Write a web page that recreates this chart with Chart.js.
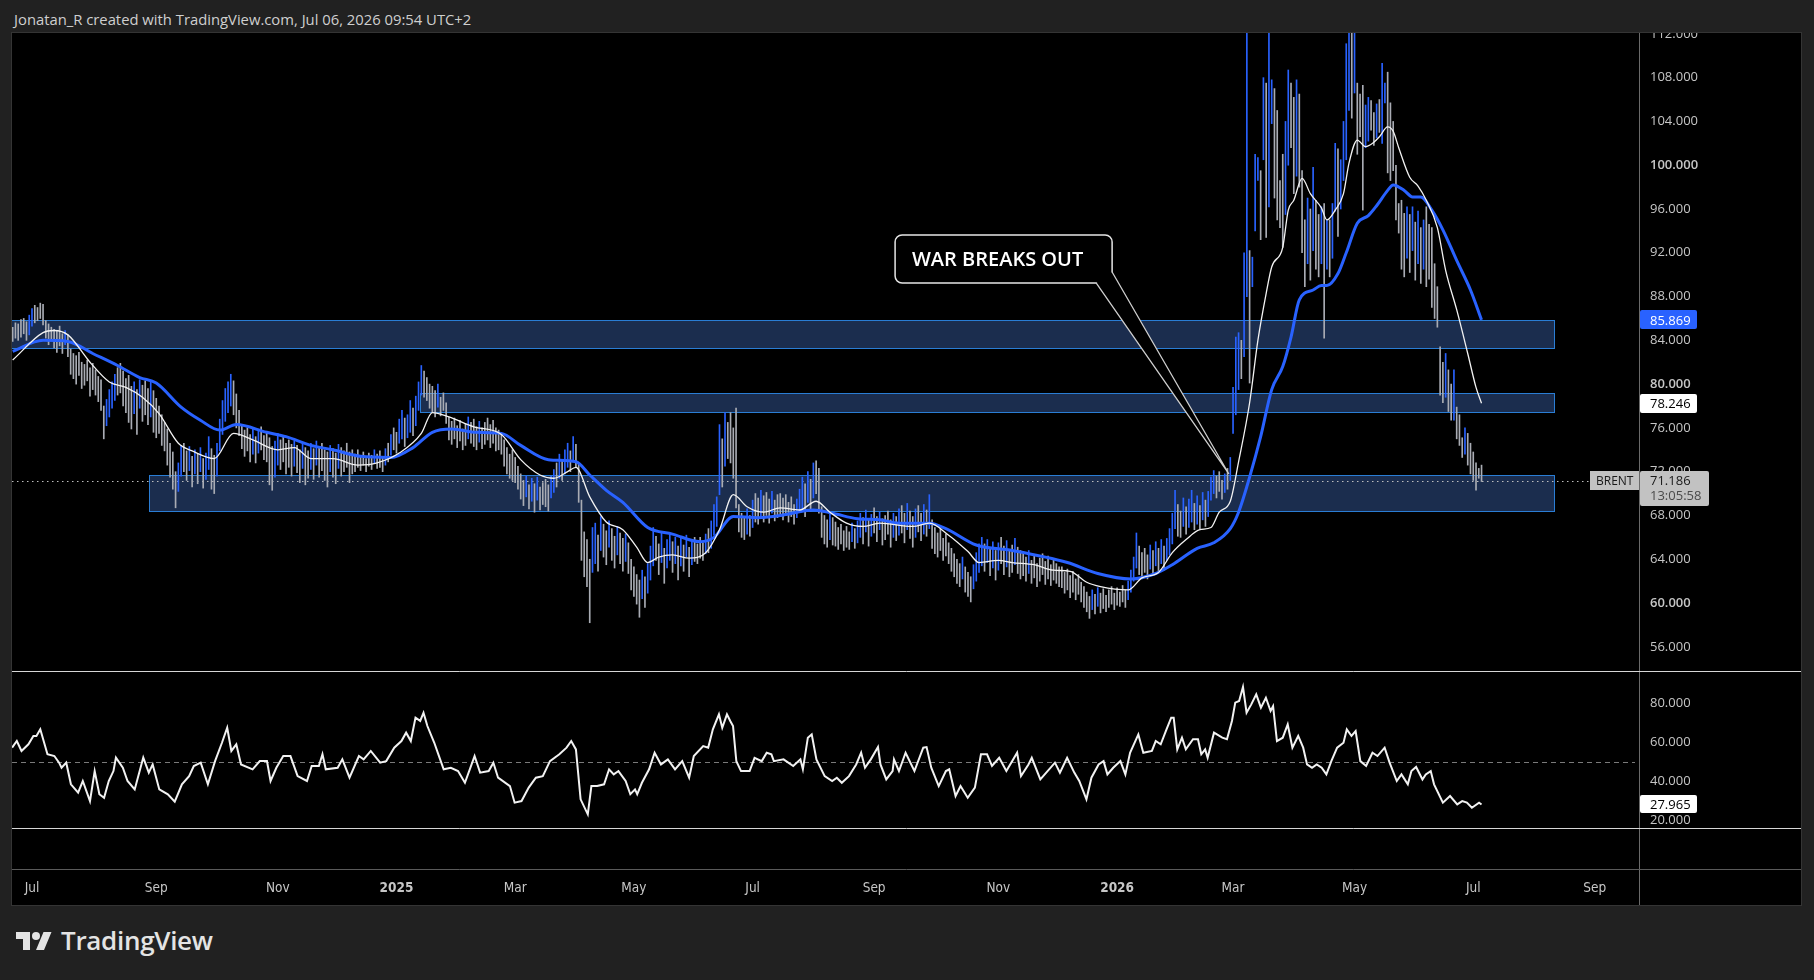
<!DOCTYPE html>
<html>
<head>
  <meta charset="utf-8">
  <title>BRENT daily</title>
  <script src="https://cdn.jsdelivr.net/npm/chart.js"></script>
  <style>
    body {
      margin: 0;
      width: 1814px;
      height: 980px;
      overflow: hidden;
      background: #212121;
      font-family: 'Open Sans', sans-serif;
    }
    .header {
      position: absolute;
      left: 14px;
      top: 9px;
      color: #cfcfcf;
      font-size: 14.8px;
    }
    .frame {
      position: absolute;
      left: 11px;
      top: 32px;
      width: 1789px;
      height: 872px;
      background: #000;
      border: 1px solid #343434;
    }
    .frame canvas { position: absolute; left: 0; }
    .logo {
      position: absolute;
      left: 15px;
      top: 922px;
      display: flex;
      align-items: center;
      color: #e4e4e4;
      font-size: 26px;
      font-weight: 600;
      letter-spacing: -0.3px;
    }
    .logo svg { margin-right: 8px; }
  </style>
</head>
<body>

  <div class="header">Jonatan_R created with TradingView.com, Jul 06, 2026 09:54 UTC+2</div>

  <div class="frame">
    <canvas id="price" width="1789" height="638" style="top:0"></canvas>
    <canvas id="rsi" width="1789" height="157" style="top:638px"></canvas>
    <canvas id="time" width="1789" height="77" style="top:795px"></canvas>
  </div>

  <div class="logo">
    <svg width="38" height="24" viewBox="0 0 36 24"><path fill="#e4e4e4" d="M14 22H7V11H0V4h14v18zM28 22h-8l7.5-18h8L28 22z"/><circle fill="#e4e4e4" cx="20" cy="8" r="4"/></svg>
    TradingView
  </div>

  <script>
    // bar index 0 = Mon 1 Jul 2024, one step per weekday
    const firstBar = -7;
    const highs = [
      85.2,85.6,85.5,85.9,86.0,85.7,86.3,86.9,87.2,87.0,
      87.4,87.3,85.8,85.5,85.2,85.0,84.9,85.3,84.6,84.9,
      84.5,83.2,82.8,82.6,82.9,82.0,81.8,82.2,81.5,81.9,
      81.3,80.7,80.4,78.0,78.6,79.5,80.2,80.9,81.5,81.9,
      81.2,80.5,80.8,79.8,80.2,79.5,80.4,79.9,80.3,79.6,
      80.2,79.4,78.7,78.0,77.2,76.5,75.9,74.6,73.8,72.0,
      72.8,74.4,74.6,73.9,74.3,73.4,74.0,73.6,74.2,73.2,
      73.7,75.2,74.1,73.5,74.6,76.8,78.5,79.6,80.2,80.9,
      80.3,79.1,77.6,76.2,75.8,76.0,75.4,75.9,75.2,75.7,
      76.1,75.3,75.6,75.1,74.3,74.8,75.5,74.9,75.2,74.6,
      74.9,74.5,74.8,74.4,74.0,74.7,74.2,73.9,74.6,74.1,
      74.8,74.3,74.6,74.0,73.8,74.4,74.1,73.7,74.5,74.2,
      73.9,74.6,73.8,74.0,73.6,74.0,73.4,73.8,73.2,73.7,
      73.5,74.0,73.6,73.9,73.3,74.1,74.6,75.4,76.0,75.6,
      76.8,77.6,76.9,77.2,78.5,77.8,78.9,80.2,81.7,81.2,
      80.6,80.0,79.8,79.4,80.0,78.8,79.2,78.3,77.0,76.6,
      76.9,76.2,76.7,75.9,76.4,77.0,76.5,76.8,76.1,76.6,
      76.0,76.5,76.9,76.3,76.7,76.0,75.8,75.4,74.9,74.2,
      73.6,74.0,73.3,72.5,71.8,71.2,71.6,70.8,71.4,70.9,
      71.5,70.6,71.0,71.3,70.8,71.6,72.2,72.8,73.6,73.1,
      74.0,74.6,73.9,75.2,74.5,72.8,69.4,66.5,65.8,64.0,
      66.9,67.3,66.2,67.9,67.2,66.6,67.5,66.8,66.1,67.0,
      66.4,65.9,66.3,65.5,64.0,63.3,62.6,62.1,63.0,62.4,
      63.6,65.2,66.9,66.1,65.4,66.5,65.0,65.8,66.4,65.6,
      66.0,65.2,65.9,65.3,66.2,65.1,65.7,66.0,65.4,66.0,
      65.5,66.3,66.8,67.5,69.0,69.7,76.3,75.0,77.4,76.5,
      77.4,76.0,77.8,69.0,68.2,67.9,68.6,68.0,69.4,70.0,
      69.6,70.3,69.8,70.1,69.5,70.2,69.4,69.9,70.0,69.6,
      69.9,69.2,69.7,69.0,69.5,70.4,71.5,70.9,72.0,71.3,
      72.8,73.0,72.3,68.8,68.0,67.6,68.3,67.8,67.4,66.9,
      67.2,66.6,67.0,66.5,67.3,66.8,67.5,68.2,67.8,68.5,
      67.6,68.1,68.7,67.9,68.3,67.7,68.0,68.4,67.6,68.2,
      67.9,68.6,68.9,68.2,69.1,68.4,67.9,68.6,68.9,68.2,
      69.0,68.5,69.9,67.6,66.9,66.4,66.8,65.9,66.3,65.5,
      65.0,64.5,64.0,63.6,64.2,63.3,62.8,62.4,63.5,64.6,
      65.4,66.0,65.4,65.8,65.0,65.6,64.8,65.5,66.0,65.2,
      65.7,64.9,65.3,65.9,65.1,64.8,64.6,64.2,64.8,63.9,
      64.4,63.6,64.1,64.5,63.8,64.3,63.5,64.0,63.6,63.3,
      63.3,62.8,63.1,62.5,62.9,62.2,62.6,61.9,61.5,61.0,
      60.6,61.2,60.8,61.4,60.9,61.3,60.7,61.2,61.5,60.9,
      61.4,61.0,61.6,61.2,62.0,63.0,64.2,66.4,65.2,64.6,
      65.0,64.4,65.3,64.8,65.6,65.0,65.8,65.2,65.9,66.8,
      68.2,70.3,69.0,68.4,69.6,68.8,69.5,70.3,69.1,69.8,
      68.9,70.1,69.4,70.2,71.5,72.1,71.6,72.0,71.2,71.8,
      72.3,73.3,79.7,84.3,84.7,84.0,92.0,113.0,92.2,91.6,
      101.0,100.7,99.5,108.0,107.5,113.0,107.8,107.0,105.0,98.6,
      101.0,104.0,108.7,107.5,106.2,107.8,106.5,99.5,95.0,97.0,
      96.0,99.8,96.8,95.5,96.2,96.5,95.0,95.0,96.5,102.0,
      101.5,100.5,104.0,111.1,113.0,113.0,112.5,107.5,106.5,107.3,
      105.5,106.2,105.9,104.8,105.6,106.0,109.3,107.5,108.5,105.7,
      104.0,100.0,96.5,96.8,95.6,96.2,95.5,96.2,94.8,95.8,
      94.3,95.0,96.2,94.6,94.3,91.0,88.9,83.4,82.0,82.8,
      81.3,80.0,81.3,77.9,77.2,75.1,76.0,75.5,74.6,73.8,
      72.8,72.3,72.6
    ];
    const lows = [
      83.9,84.2,84.0,84.3,84.6,84.0,84.5,85.3,85.6,85.8,
      86.0,85.4,84.2,83.6,84.0,83.3,82.9,83.5,82.8,83.6,
      82.5,80.9,80.5,80.0,80.8,79.6,79.9,80.3,78.9,79.5,
      79.0,78.4,77.6,75.0,76.2,77.0,77.8,78.5,79.0,79.2,
      78.0,77.4,76.5,75.9,77.3,75.4,77.8,76.6,77.2,76.3,
      77.0,75.6,75.1,75.5,74.4,73.9,72.6,71.5,70.4,68.7,
      70.2,71.6,72.0,71.2,72.1,70.6,71.8,70.9,72.0,70.5,
      71.3,72.2,70.4,70.0,71.6,73.9,75.4,76.6,77.4,78.0,
      77.2,76.0,75.3,74.1,73.4,73.9,72.9,73.6,72.8,73.7,
      74.0,73.1,72.9,70.8,70.3,71.5,72.6,72.2,72.9,71.8,
      72.4,71.6,72.5,71.9,71.0,72.3,70.8,71.4,72.2,71.3,
      72.6,71.5,72.1,71.2,70.6,72.0,71.5,70.9,72.3,71.6,
      72.0,72.4,71.0,71.8,72.0,72.4,72.1,72.6,72.0,72.5,
      72.2,72.8,72.3,72.4,72.0,72.6,72.9,73.5,74.0,73.7,
      74.6,75.0,74.3,75.1,75.6,75.3,76.2,77.6,79.0,78.8,
      78.5,77.8,77.4,77.0,77.9,77.1,77.6,76.4,74.9,74.5,
      75.0,74.2,74.8,74.0,74.4,75.0,74.6,74.3,74.0,74.7,
      74.1,74.5,74.9,74.2,74.6,73.9,74.0,73.6,72.5,71.8,
      71.4,71.2,71.0,70.4,69.5,68.9,69.7,68.6,69.3,68.3,
      69.4,68.5,69.0,68.8,68.4,69.6,70.1,70.6,71.4,71.2,
      71.8,72.4,72.0,73.0,72.4,69.2,63.9,62.4,61.5,58.2,
      62.8,63.6,62.9,64.8,64.2,63.5,65.1,63.9,63.2,64.4,
      63.6,62.9,63.8,62.7,61.2,60.6,59.9,58.7,60.4,59.6,
      60.9,62.1,63.4,63.9,62.6,63.7,61.8,63.2,63.9,62.8,
      63.6,62.1,63.4,62.9,64.2,62.4,63.5,63.8,63.6,64.1,
      63.9,64.5,64.6,65.0,66.2,67.0,69.9,70.6,72.5,73.2,
      72.8,71.4,68.7,66.5,66.0,65.8,66.3,66.1,66.9,67.4,
      67.2,67.8,67.4,68.0,67.3,68.2,67.5,67.8,68.1,67.6,
      68.0,67.4,67.9,67.2,67.8,68.3,68.6,67.9,69.2,68.4,
      69.6,70.0,68.2,66.0,65.4,65.1,65.8,65.3,65.2,64.9,
      65.4,64.8,65.1,64.9,65.6,65.0,65.5,66.0,65.4,66.5,
      65.2,66.1,66.4,65.6,66.7,65.3,65.8,66.3,65.1,66.0,
      65.7,66.2,66.4,65.5,66.7,65.9,65.1,66.0,66.5,65.7,
      66.3,66.1,66.8,65.0,64.5,64.2,64.8,63.9,64.3,63.6,
      62.9,62.4,61.8,61.5,62.2,61.0,60.6,60.1,61.3,62.0,
      62.8,63.4,62.9,63.7,62.5,63.2,62.1,63.0,63.6,62.6,
      63.3,62.4,62.8,63.5,62.7,62.2,62.5,62.0,62.7,61.8,
      62.3,61.5,62.0,62.6,61.7,62.2,61.6,62.1,61.8,61.5,
      61.4,60.9,61.2,60.5,61.0,60.3,60.8,60.1,59.6,59.2,
      58.6,59.4,59.0,59.7,59.1,59.5,59.2,59.6,59.9,59.4,
      59.8,59.7,60.1,59.6,60.3,61.0,62.0,63.2,62.6,62.4,
      62.8,62.2,63.1,62.7,63.4,62.9,63.6,63.0,63.9,64.4,
      65.4,66.8,66.1,66.0,67.0,66.3,66.9,67.4,66.7,67.2,
      66.8,67.6,67.0,67.9,69.4,70.0,69.6,70.2,69.5,70.1,
      70.4,71.2,75.5,77.2,79.5,80.5,82.5,88.0,80.1,88.9,
      94.0,98.6,93.2,100.5,93.4,96.2,103.8,97.0,95.0,94.3,
      92.5,95.5,100.0,101.6,97.4,99.0,98.0,92.0,88.9,91.0,
      89.5,92.2,90.5,89.8,91.0,84.2,90.5,89.8,91.5,95.8,
      93.5,96.0,98.6,100.5,105.0,104.3,106.6,101.0,102.6,95.9,
      101.6,102.2,103.2,101.8,102.5,103.0,102.0,105.7,99.3,98.6,
      99.5,95.0,93.8,90.5,89.8,91.5,90.2,92.2,89.5,91.0,
      89.2,90.5,88.9,89.6,87.0,86.0,85.2,79.0,78.3,78.8,
      77.5,76.7,76.7,75.0,74.4,73.3,73.6,72.6,71.8,71.2,
      70.3,71.4,71.1
    ];

    // moving averages (bar index, value)
    const whiteIdx = [-7,4,8,13,21,28,34,40,46,53,58,66,73,80,89,95,101,109,118,125,
      133,141,145,151,160,170,177,184,189,194,197,202,208,214,219,223,227,232,238,244,
      249,254,259,265,271,278,284,289,295,301,307,319,325,332,339,343,350,355,363,370,
      376,382,387,397,402,408,413,418,423,427,430,434,437,441,444,447,449,453,455,457,
      460,463,467,469,472,475,477,480,483,486,488,491,493,495,499,502,505,509,512,516,
      520,523,525];
    const whiteMA = [82.2,84.7,84.9,84.5,82.0,80.2,79.7,78.8,77.3,74.6,73.9,73.2,75.5,74.9,74.0,74.2,73.2,73.2,72.6,72.8,
      73.7,75.5,77.4,77.0,76.1,75.4,73.1,71.7,71.4,72.0,72.4,69.7,67.4,66.7,65.1,63.7,64.2,64.4,64.1,64.6,
      66.7,69.9,68.8,68.3,68.7,68.5,69.3,68.3,67.3,67.0,67.3,67.0,67.3,66.2,64.7,63.7,63.9,63.7,63.5,63.0,
      62.9,61.9,61.5,61.2,62.3,62.8,64.6,65.8,66.7,66.9,68.3,69.3,72.9,78.3,84.0,88.3,90.7,92.5,95.9,96.8,
      98.8,97.4,96.1,95.0,95.9,97.4,100.2,102.3,101.7,102.1,102.6,103.5,103.1,101.6,98.9,98.1,96.8,94.3,90.4,86.8,
      82.8,79.7,78.246];
    const blueIdx = [-7,4,13,22,31,39,45,54,61,68,74,85,92,101,109,119,130,138,145,152,
      161,170,177,187,197,202,208,214,223,232,242,247,254,263,271,283,290,299,307,314,
      325,331,342,355,375,386,398,407,413,422,428,434,437,441,445,449,453,456,459,464,
      467,469,473,476,480,484,487,491,493,497,500,503,507,511,516,521,525];
    const blueMA = [83.0,84.0,83.9,82.8,81.7,80.6,80.1,77.9,76.7,75.8,76.3,75.6,75.2,74.4,74.0,73.4,73.3,74.2,75.6,75.9,
      75.6,75.5,74.4,73.1,72.9,71.7,70.3,69.2,66.9,66.3,65.6,66.0,67.9,67.8,68.0,68.5,68.2,67.7,67.6,67.3,
      67.3,66.8,65.3,64.8,63.7,62.7,62.2,62.7,63.5,65.0,65.5,66.8,68.3,71.5,75.2,79.5,81.6,84.3,87.7,88.6,
      89.0,89.0,90.1,92.0,94.7,95.4,96.3,97.7,98.2,97.7,97.1,97.1,95.9,94.1,91.3,88.6,85.869];

    // oscillator pane (bar index, value)
    const rsiIdx = [
      -7.2,-5.5,-3.8,-1.3,0.5,1.6,3.0,5.6,8.1,9.8,
      10.7,12.4,14.1,16.7,18.4,21.0,22.7,24.4,26.1,27.8,
      29.5,30.4,32.9,34.6,37.2,40.3,42.3,43.7,46.1,49.2,
      51.7,54.3,56.9,58.6,61.1,63.7,66.3,68.8,70.7,72.2,
      74.0,75.7,79.9,82.5,85.1,86.4,88.5,91.0,93.6,96.2,
      99.6,101.3,103.9,105.2,106.4,110.7,112.4,115.0,118.4,120.1,
      122.7,126.1,128.3,131.2,133.8,135.5,137.2,138.9,140.6,141.8,
      143.2,145.7,147.4,149.1,151.7,154.3,156.8,160.3,162.3,165.4,
      167.1,168.8,173.1,174.8,177.3,179.9,182.5,185.0,187.6,191.0,
      193.6,195.3,197.0,198.7,201.3,202.6,204.7,207.2,209.0,210.7,
      212.4,215.0,216.7,218.4,219.2,220.9,223.5,225.5,227.8,230.3,
      232.9,235.5,238.0,239.7,243.1,244.9,246.6,248.8,250.0,251.7,
      252.9,253.9,255.1,256.8,259.9,261.7,264.3,266.1,267.8,268.7,
      272.2,275.7,278.3,279.2,281.0,282.4,284.1,287.1,289.8,291.5,
      293.3,295.9,298.5,300.3,301.7,303.8,306.4,307.3,309.4,311.7,
      312.2,314.0,316.4,319.6,322.8,324.0,325.7,328.4,331.0,332.2,
      334.5,336.3,338.9,341.5,343.7,345.9,347.7,350.3,352.9,356.8,
      358.2,360.9,362.1,365.2,370.5,372.3,374.9,377.5,379.3,381.9,
      383.7,386.3,388.1,389.5,391.6,394.2,396.0,397.7,400.7,402.5,
      405.6,407.0,408.8,410.9,412.6,413.5,414.8,416.5,417.9,420.5,
      422.3,423.5,424.9,425.8,428.1,431.1,432.8,434.6,435.8,437.2,
      438.6,439.9,441.6,443.4,445.1,446.9,448.6,449.5,450.9,453.0,
      454.8,456.5,458.6,460.4,461.8,463.6,465.3,467.1,468.8,470.6,
      472.7,475.0,476.2,477.9,479.4,481.1,483.2,485.5,487.3,489.9,
      491.7,494.3,496.0,498.3,499.6,501.3,503.6,504.8,506.6,507.8,
      511.0,513.6,516.2,518.0,519.7,521.5,524.1,525.0
    ];
    const rsiVals = [
      57.1,60.5,55.4,58.8,63.1,63.1,66.5,53.7,52.8,49.4,
      46.8,49.4,38.3,34.0,40.0,29.7,45.1,33.2,31.4,40.0,
      45.1,52.0,46.8,40.0,35.7,52.0,44.3,48.5,35.7,33.2,
      29.4,38.3,42.5,47.7,49.4,38.3,50.2,59.6,67.3,55.4,
      58.8,48.5,46.0,50.2,50.2,40.0,46.8,52.8,52.8,42.5,
      40.0,47.7,47.7,53.7,46.0,46.8,51.1,41.7,52.8,51.1,
      55.4,49.4,50.2,57.1,60.5,64.8,60.5,72.5,70.8,75.0,
      68.2,59.6,52.8,46.0,46.8,45.1,39.1,52.8,44.3,45.1,
      49.4,41.7,37.4,28.9,29.7,36.6,41.7,42.5,50.2,53.7,
      57.1,60.5,56.2,30.6,22.9,37.4,37.4,38.3,46.0,43.4,
      45.1,40.0,33.2,35.7,33.2,39.1,46.0,54.5,48.5,51.1,
      46.0,50.2,41.7,52.8,57.9,57.1,66.5,74.2,67.3,74.2,
      70.8,68.2,50.2,45.1,45.1,51.9,50.2,54.5,53.7,50.2,
      51.1,47.7,51.1,46.0,62.2,63.9,51.1,42.5,40.0,41.7,
      39.1,42.5,48.5,54.5,46.8,51.1,57.4,48.5,40.8,45.1,
      51.1,45.1,54.5,45.1,57.1,57.4,46.8,37.4,45.1,46.0,
      32.3,37.4,31.4,36.6,53.7,53.7,47.7,51.9,45.1,54.5,
      42.5,48.5,51.9,40.8,49.4,44.3,51.9,44.3,40.0,30.6,
      41.7,48.5,50.2,43.4,46.8,50.2,43.4,54.5,63.9,54.5,
      55.4,60.5,58.8,66.5,72.5,72.5,56.2,62.2,56.2,61.4,
      61.4,53.7,56.2,51.9,64.8,62.2,61.4,70.8,80.2,81.0,
      88.2,75.0,79.3,84.4,77.6,82.7,75.9,78.4,60.5,62.2,
      69.0,57.1,63.1,57.1,48.5,46.8,48.5,46.8,43.4,50.2,
      57.1,59.6,66.5,63.1,65.6,50.2,47.7,54.5,52.8,57.1,
      49.4,40.0,43.4,38.3,45.1,47.2,40.8,43.4,45.1,38.3,
      28.9,32.3,28.0,29.7,28.9,26.3,28.9,27.965
    ];

    // support / resistance boxes (bar index from-to, price low-high)
    const zoneFrom = [-12, 140.5, 42.4];
    const zoneTo = [551.2, 551.2, 551.2];
    const zoneLow = [83.3, 77.45, 68.4];
    const zoneHigh = [85.85, 79.2, 71.7];

    const priceTicks = [56, 60, 64, 68, 72, 76, 80, 84, 88, 92, 96, 100, 104, 108, 112];
    const rsiTicks = [20, 40, 60, 80];
    const monthTickIdx = [0, 45, 89, 132, 175, 218, 261, 305, 350, 393, 435, 479, 522, 566];
    const monthLabels = ['Jul', 'Sep', 'Nov', '2025', 'Mar', 'May', 'Jul', 'Sep', 'Nov', '2026', 'Mar', 'May', 'Jul', 'Sep'];

    const symbol = 'BRENT';
    const lastPrice = 71.186;
    const countdown = '13:05:58';
    const calloutText = 'WAR BREAKS OUT';

    const xMin = -7.244, xMax = 582.03;
    const BLUE = '#2962ff';
    const TICK = '#c6c6c6';
    const FONT = "'Open Sans', sans-serif";

    const bars = highs.map((h, i) => ({ x: i + firstBar, y: [lows[i], h] }));
    const mids = highs.map((h, i) => (h + lows[i]) / 2);
    const barColors = mids.map((m, i) => (i > 0 && m - mids[i - 1] > 0.55) ? BLUE : '#a9acb4');

    function tag(ctx, left, yc, w, h, bg, fg, lines) {
      ctx.fillStyle = bg;
      ctx.beginPath();
      ctx.roundRect(left, Math.round(yc - 9.5), w, h, 2);
      ctx.fill();
      ctx.font = '13px ' + FONT;
      ctx.textAlign = 'left';
      ctx.textBaseline = 'middle';
      lines.forEach((l, i) => {
        ctx.fillStyle = l.color || fg;
        ctx.fillText(l.text, left + 10, yc + 1 + i * 15);
      });
    }

    function sideLine(ctx, chart) {
      const a = chart.chartArea;
      ctx.strokeStyle = '#6a6a6a';
      ctx.lineWidth = 1;
      ctx.beginPath();
      ctx.moveTo(Math.round(a.right) + 0.5, 0);
      ctx.lineTo(Math.round(a.right) + 0.5, chart.height);
      ctx.stroke();
    }

    const priceDeco = {
      id: 'priceDeco',
      beforeDatasetsDraw(chart) {
        const { ctx, chartArea: a, scales: { x, y } } = chart;
        ctx.save();
        ctx.beginPath();
        ctx.rect(a.left, a.top, a.right - a.left, a.bottom - a.top);
        ctx.clip();
        zoneLow.forEach((lo, i) => {
          const x0 = Math.round(x.getPixelForValue(zoneFrom[i])) + 0.5;
          const x1 = Math.round(x.getPixelForValue(zoneTo[i])) + 0.5;
          const y0 = Math.round(y.getPixelForValue(zoneHigh[i])) + 0.5;
          const y1 = Math.round(y.getPixelForValue(lo)) + 0.5;
          ctx.fillStyle = '#1b2d4e';
          ctx.fillRect(x0, y0, x1 - x0, y1 - y0);
          ctx.strokeStyle = '#2a7dd4';
          ctx.lineWidth = 1;
          ctx.strokeRect(x0, y0, x1 - x0, y1 - y0);
        });
        const yl = Math.round(y.getPixelForValue(lastPrice)) + 0.5;
        ctx.setLineDash([1.5, 3.5]);
        ctx.strokeStyle = '#bdbdbd';
        ctx.beginPath();
        ctx.moveTo(a.left, yl);
        ctx.lineTo(a.right, yl);
        ctx.stroke();
        ctx.restore();
      },
      afterDatasetsDraw(chart) {
        const { ctx, scales: { x, y } } = chart;
        const bx0 = x.getPixelForValue(312.6), bx1 = x.getPixelForValue(391.2);
        const by0 = y.getPixelForValue(93.63), by1 = y.getPixelForValue(89.24);
        const tx = x.getPixelForValue(433.5), ty = y.getPixelForValue(71.79);
        ctx.save();
        ctx.fillStyle = '#000';
        ctx.strokeStyle = '#e6e6e6';
        ctx.lineWidth = 1.5;
        ctx.beginPath();
        ctx.roundRect(bx0, by0, bx1 - bx0, by1 - by0, 7);
        ctx.fill();
        ctx.stroke();
        // tail
        ctx.beginPath();
        ctx.moveTo(bx1 - 16, by1);
        ctx.lineTo(tx, ty);
        ctx.lineTo(bx1, by1 - 11);
        ctx.closePath();
        ctx.fill();
        ctx.strokeStyle = '#cfcfcf';
        ctx.lineWidth = 1.3;
        ctx.beginPath();
        ctx.moveTo(bx1 - 16, by1);
        ctx.lineTo(tx, ty);
        ctx.lineTo(bx1, by1 - 11);
        ctx.stroke();
        ctx.fillStyle = '#fff';
        ctx.font = '600 20px ' + FONT;
        ctx.textAlign = 'center';
        ctx.textBaseline = 'middle';
        ctx.fillText(calloutText, (bx0 + bx1) / 2 - 6, (by0 + by1) / 2 + 1);
        ctx.restore();
      },
      afterDraw(chart) {
        const { ctx, chartArea: a, scales: { y } } = chart;
        ctx.save();
        sideLine(ctx, chart);
        const L = Math.round(a.right) + 1;
        tag(ctx, L, y.getPixelForValue(blueMA[blueMA.length - 1]), 57, 19, BLUE, '#fff',
          [{ text: blueMA[blueMA.length - 1].toFixed(3) }]);
        tag(ctx, L, y.getPixelForValue(whiteMA[whiteMA.length - 1]), 57, 19, '#fff', '#000',
          [{ text: whiteMA[whiteMA.length - 1].toFixed(3) }]);
        const yl = y.getPixelForValue(lastPrice);
        tag(ctx, L, yl, 69, 35, '#c2c2c2', '#1a1a1a',
          [{ text: lastPrice.toFixed(3) }, { text: countdown, color: '#4a4a4a' }]);
        ctx.fillStyle = '#c2c2c2';
        ctx.fillRect(L - 50, Math.round(yl - 9.5), 49, 19);
        ctx.fillStyle = '#1a1a1a';
        ctx.font = '12px ' + FONT;
        ctx.textAlign = 'left';
        ctx.textBaseline = 'middle';
        ctx.fillText(symbol, L - 44, yl + 1);
        ctx.restore();
      }
    };

    new Chart(document.getElementById('price'), {
      type: 'bar',
      data: {
        datasets: [
          {
            type: 'line',
            data: whiteIdx.map((v, i) => ({ x: v, y: whiteMA[i] })),
            borderColor: '#f2f2f2',
            borderWidth: 1.3,
            pointRadius: 0,
            cubicInterpolationMode: 'monotone',
            order: 1
          },
          {
            type: 'line',
            data: blueIdx.map((v, i) => ({ x: v, y: blueMA[i] })),
            borderColor: BLUE,
            borderWidth: 3,
            pointRadius: 0,
            cubicInterpolationMode: 'monotone',
            order: 2
          },
          {
            type: 'bar',
            data: bars,
            backgroundColor: barColors,
            barThickness: 1,
            borderWidth: 0,
            order: 3
          }
        ]
      },
      options: {
        responsive: false,
        devicePixelRatio: 1,
        animation: false,
        events: [],
        layout: { padding: 0 },
        plugins: { legend: { display: false }, tooltip: { enabled: false } },
        scales: {
          x: { type: 'linear', min: xMin, max: xMax, display: false, offset: false },
          y: {
            type: 'linear',
            position: 'right',
            min: 53.79,
            max: 112.08,
            grid: { display: false, drawTicks: false },
            border: { display: false },
            afterFit: s => { s.width = 162; s.paddingTop = 0; s.paddingBottom = 0; },
            afterBuildTicks: s => { s.ticks = priceTicks.map(v => ({ value: v })); },
            ticks: {
              padding: 11,
              color: TICK,
              autoSkip: false,
              font: c => ({ family: FONT, size: 13, weight: (c.tick && c.tick.value % 20 === 0) ? '600' : '400' }),
              callback: v => v.toFixed(3)
            }
          }
        }
      },
      plugins: [priceDeco]
    });

    const rsiDeco = {
      id: 'rsiDeco',
      beforeDatasetsDraw(chart) {
        const { ctx, chartArea: a, scales: { y } } = chart;
        const ym = Math.round(y.getPixelForValue(50)) + 0.5;
        ctx.save();
        ctx.setLineDash([5, 4]);
        ctx.strokeStyle = '#7a7a7a';
        ctx.lineWidth = 1;
        ctx.beginPath();
        ctx.moveTo(a.left, ym);
        ctx.lineTo(a.right - 4, ym);
        ctx.stroke();
        ctx.restore();
      },
      afterDraw(chart) {
        const { ctx, chartArea: a, scales: { y } } = chart;
        ctx.save();
        sideLine(ctx, chart);
        ctx.strokeStyle = '#d6d6d6';
        ctx.lineWidth = 1;
        ctx.beginPath();
        ctx.moveTo(0, 0.5);
        ctx.lineTo(chart.width, 0.5);
        ctx.stroke();
        const last = rsiVals[rsiVals.length - 1];
        tag(ctx, Math.round(a.right) + 1, y.getPixelForValue(last), 57, 18, '#fff', '#000', [{ text: last.toFixed(3) }]);
        ctx.restore();
      }
    };

    new Chart(document.getElementById('rsi'), {
      type: 'line',
      data: {
        datasets: [{
          data: rsiIdx.map((v, i) => ({ x: v, y: rsiVals[i] })),
          borderColor: '#f2f2f2',
          borderWidth: 2,
          pointRadius: 0,
          tension: 0
        }]
      },
      options: {
        responsive: false,
        devicePixelRatio: 1,
        animation: false,
        events: [],
        layout: { padding: 0 },
        plugins: { legend: { display: false }, tooltip: { enabled: false } },
        scales: {
          x: { type: 'linear', min: xMin, max: xMax, display: false },
          y: {
            type: 'linear',
            position: 'right',
            min: 15.9,
            max: 96.41,
            grid: { display: false, drawTicks: false },
            border: { display: false },
            afterFit: s => { s.width = 162; s.paddingTop = 0; s.paddingBottom = 0; },
            afterBuildTicks: s => { s.ticks = rsiTicks.map(v => ({ value: v })); },
            ticks: {
              padding: 11,
              color: TICK,
              autoSkip: false,
              font: { family: FONT, size: 13 },
              callback: v => v.toFixed(3)
            }
          }
        }
      },
      plugins: [rsiDeco]
    });

    const timeDeco = {
      id: 'timeDeco',
      afterDraw(chart) {
        const { ctx, chartArea: a } = chart;
        ctx.save();
        sideLine(ctx, chart);
        ctx.lineWidth = 1;
        ctx.strokeStyle = '#d6d6d6';
        ctx.beginPath();
        ctx.moveTo(0, 0.5);
        ctx.lineTo(chart.width, 0.5);
        ctx.stroke();
        ctx.strokeStyle = '#5a5a5a';
        ctx.beginPath();
        ctx.moveTo(0, Math.round(a.bottom) + 0.5);
        ctx.lineTo(chart.width, Math.round(a.bottom) + 0.5);
        ctx.stroke();
        ctx.restore();
      }
    };

    new Chart(document.getElementById('time'), {
      type: 'line',
      data: { datasets: [] },
      options: {
        responsive: false,
        devicePixelRatio: 1,
        animation: false,
        events: [],
        layout: { padding: { right: 162 } },
        plugins: { legend: { display: false }, tooltip: { enabled: false } },
        scales: {
          x: {
            type: 'linear',
            position: 'bottom',
            min: xMin,
            max: xMax,
            grid: { display: false, drawTicks: false },
            border: { display: false },
            afterFit: s => { s.height = 36; s.paddingLeft = 0; s.paddingRight = 0; },
            afterBuildTicks: s => { s.ticks = monthTickIdx.map(v => ({ value: v })); },
            ticks: {
              padding: 11,
              color: TICK,
              autoSkip: false,
              maxRotation: 0,
              font: c => ({
                family: "'Liberation Sans Narrow', 'DejaVu Sans Condensed', " + FONT,
                size: 13.5,
                weight: (c.index === 3 || c.index === 9) ? 'bold' : 'normal'
              }),
              callback: (v, i) => monthLabels[i]
            }
          },
          y: { min: 0, max: 1, display: false }
        }
      },
      plugins: [timeDeco]
    });
  </script>
</body>
</html>
